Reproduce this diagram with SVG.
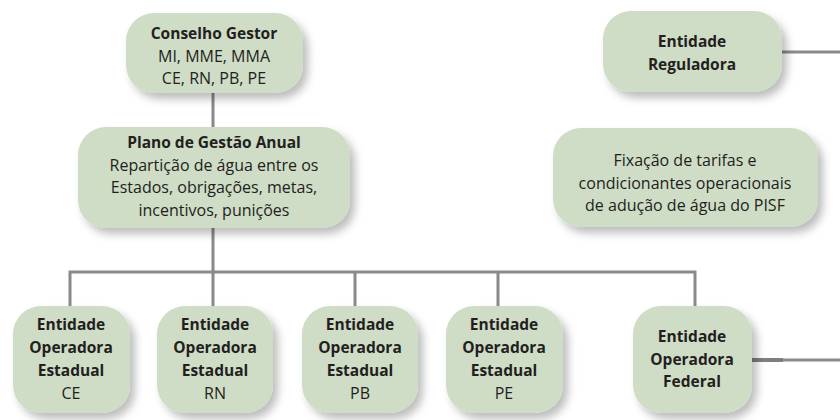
<svg xmlns="http://www.w3.org/2000/svg" width="840" height="420" viewBox="0 0 840 420">
<defs>
<filter id="sh" x="-20%" y="-20%" width="150%" height="150%">
<feDropShadow dx="5" dy="6" stdDeviation="4.5" flood-color="#000" flood-opacity="0.26"/>
</filter>
<style>
.box{fill:#cfdcc6;filter:url(#sh)}
.t{font-family:"Open Sans","Noto Sans",sans-serif;font-size:16px;fill:#231f20;text-anchor:middle}
.b{font-weight:bold;font-size:15.5px}
.ln{stroke:#8a8a8c;stroke-width:3;fill:none}
</style>
</defs>
<rect width="840" height="420" fill="#fff"/>
<g id="connectors">
<path class="ln" d="M213 93V127M213 228V306M70 306V272H695V306M355 272V306M498 272V306"/>
<path class="ln" d="M782 52H840"/>
<path class="ln" d="M752 360H840"/>
<path d="M752 360H783" stroke="#7e7e80" stroke-width="4"/>
</g>
<g id="conselho">
<rect class="box" x="126" y="13" width="177" height="80" rx="28"/>
<text class="t" x="214" y="39"><tspan class="b">Conselho Gestor</tspan><tspan x="214" dy="22.5">MI, MME, MMA</tspan><tspan x="214" dy="22.5">CE, RN, PB, PE</tspan></text>
</g>
<g id="plano">
<rect class="box" x="78" y="127" width="272" height="101" rx="28"/>
<text class="t" x="214" y="148"><tspan class="b">Plano de Gestão Anual</tspan><tspan x="214" dy="22.5">Repartição de água entre os</tspan><tspan x="214" dy="22.5">Estados, obrigações, metas,</tspan><tspan x="214" dy="22.5">incentivos, punições</tspan></text>
</g>
<g id="reguladora">
<rect class="box" x="603" y="11" width="179" height="81" rx="28"/>
<text class="t b" x="692" y="47">Entidade<tspan x="692" dy="22.5">Reguladora</tspan></text>
</g>
<g id="fixacao">
<rect class="box" x="553" y="128" width="265" height="99" rx="28"/>
<text class="t" x="685" y="166">Fixação de tarifas e<tspan x="685" dy="22.5">condicionantes operacionais</tspan><tspan x="685" dy="22.5">de adução de água do PISF</tspan></text>
</g>
<g id="op-ce">
<rect class="box" x="13" y="306" width="117" height="107" rx="28"/>
<text class="t" x="71" y="330"><tspan class="b">Entidade</tspan><tspan x="71" dy="23" class="b">Operadora</tspan><tspan x="71" dy="23" class="b">Estadual</tspan><tspan x="71" dy="23">CE</tspan></text>
</g>
<g id="op-rn">
<rect class="box" x="157" y="306" width="116" height="107" rx="28"/>
<text class="t" x="215" y="330"><tspan class="b">Entidade</tspan><tspan x="215" dy="23" class="b">Operadora</tspan><tspan x="215" dy="23" class="b">Estadual</tspan><tspan x="215" dy="23">RN</tspan></text>
</g>
<g id="op-pb">
<rect class="box" x="302" y="306" width="116" height="107" rx="28"/>
<text class="t" x="360" y="330"><tspan class="b">Entidade</tspan><tspan x="360" dy="23" class="b">Operadora</tspan><tspan x="360" dy="23" class="b">Estadual</tspan><tspan x="360" dy="23">PB</tspan></text>
</g>
<g id="op-pe">
<rect class="box" x="446" y="306" width="117" height="107" rx="28"/>
<text class="t" x="504" y="330"><tspan class="b">Entidade</tspan><tspan x="504" dy="23" class="b">Operadora</tspan><tspan x="504" dy="23" class="b">Estadual</tspan><tspan x="504" dy="23">PE</tspan></text>
</g>
<g id="op-federal">
<rect class="box" x="633" y="306" width="119" height="107" rx="28"/>
<text class="t b" x="692" y="342">Entidade<tspan x="692" dy="22.5">Operadora</tspan><tspan x="692" dy="22.5">Federal</tspan></text>
</g>
</svg>
